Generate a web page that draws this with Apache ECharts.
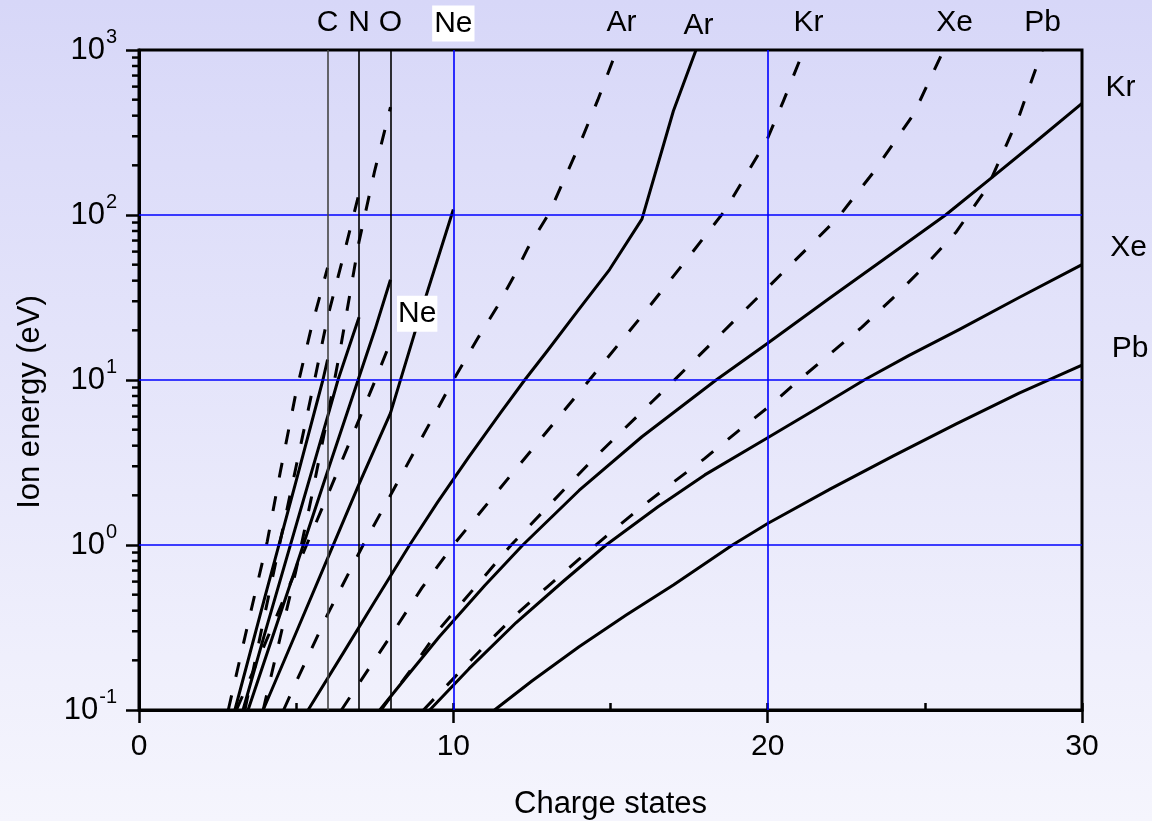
<!DOCTYPE html>
<html>
<head>
<meta charset="utf-8">
<script src="https://cdn.jsdelivr.net/npm/echarts/dist/echarts.min.js"></script>
<style>
html,body{margin:0;padding:0;}
#chart{width:1152px;height:821px;background:linear-gradient(to bottom,#d7d7f8 0%,#f5f5fd 100%);}
</style>
</head>
<body>
<div id="chart"></div>
<script>
// ---------- data ----------
const xTicks = [0, 10, 20, 30];
const yMin = 0.1, yMax = 1000;
const gridX = [10, 20];
const gridY = [1, 10, 100];
const elementLines = [6, 7, 8];
const minorYTicks = [0.2,0.3,0.4,0.5,0.6,0.7,0.8,0.9, 2,3,4,5,6,7,8,9, 20,30,40,50,60,70,80,90, 200,300,400,500,600,700,800,900];

const solidC  = [[3.05,0.1],[4,0.48],[5,2.45],[5.85,10],[6,13.3]];
const solidN  = [[3.31,0.1],[4,0.29],[5,1.32],[6,6.0],[6.33,10],[7,24]];
const solidO  = [[3.47,0.1],[4,0.2],[5,0.74],[6,2.8],[6.97,10],[7.5,20],[8,40.5]];
const solidNe = [[3.95,0.1],[5,0.295],[6,0.83],[7,2.34],[8,6.3],[9,26.9],[10,108]];
const solidAr = [[5.38,0.1],[6.5,0.222],[7.5,0.454],[8.61,1.0],[9.5,1.82],[10.5,3.43],[11.5,6.31],[12.27,10],[13,15.1],[14,26.9],[14.97,46.7],[16,94.4],[17,427],[17.72,1000]];
const solidKr = [[7.66,0.1],[8.5,0.158],[9.56,0.279],[11,0.569],[12.21,1.0],[14,2.14],[16,4.53],[18.36,10],[20,16.7],[22,31.6],[24,59.2],[25.66,100],[27.12,168],[28.5,275],[30,475]];
const solidXe = [[9.25,0.1],[10.5,0.178],[12,0.339],[13.5,0.603],[14.86,1.0],[16.5,1.70],[18,2.66],[20,4.47],[21.5,6.61],[23.07,10],[24.5,14.1],[26.09,20.2],[28,31.6],[30,50]];
const solidPb = [[11.31,0.1],[12.5,0.15],[14,0.242],[15.5,0.376],[17,0.573],[18.88,1.0],[20,1.35],[22,2.19],[24,3.47],[26,5.42],[28,8.32],[30,12.3]];

const dashC  = [[2.84,0.1],[3.5,0.355],[4.08,1.05],[4.5,2.8],[5,8.5],[5.5,21.4],[6,47.9]];
const dashN  = [[3.37,0.1],[4,0.38],[4.5,1.07],[5,3.0],[5.61,10.5],[6,24],[6.5,56],[7,135]];
const dashO  = [[3.95,0.1],[4.5,0.28],[5,0.71],[5.5,2.0],[6,6.0],[6.39,14.8],[7,69],[7.5,186],[8,450]];
const dashNe = [[3.1,0.1],[4,0.25],[5,0.71],[6,2.0],[7,5.75],[7.5,9.8],[8,17]];
const dashAr = [[4.6,0.1],[5,0.148],[6,0.38],[7.13,1.0],[8,2.0],[9,4.47],[10,10],[10.8,18.2],[11.38,27.5],[11.9,41.7],[12.37,63],[13.06,103.5],[14,263],[14.6,500],[15.2,1000]];
const dashKr = [[6.44,0.1],[7,0.145],[8,0.28],[9,0.55],[10,1.0],[12,2.9],[14.23,9.5],[16,24.5],[17.5,56],[18.65,107],[19.98,286],[20.5,490],[21.15,1000]];
const dashXe = [[7.7,0.1],[8.6,0.17],[9.56,0.31],[11.84,1.0],[14.44,3.3],[17.19,10.7],[20,36.3],[22.22,95.5],[23.35,180],[24.64,407],[25.6,1000]];
const dashPb = [[9.05,0.1],[10,0.155],[11,0.245],[12,0.38],[13,0.56],[14,0.82],[15,1.19],[16,1.71],[17,2.4],[18,3.35],[19,4.8],[20,6.8],[21,10],[22,14.5],[23,20.9],[24,31.6],[25,49],[26,79],[27,148],[28,398],[28.74,1000]];

const topLabels  = ['C','N','O','Ne','Ar','Ar','Kr','Xe','Pb'];
const topLabelX  = [6, 7, 8, 10, 15.35, 17.8, 21.3, 25.95, 28.75];
const rightLabels = ['Kr','Xe','Pb'];
const rightLabelY = [475, 50, 12.3];
const plotLabel = 'Ne';
const plotLabelAt = [8.85, 25.2];

const xName = 'Charge states';
const yName = 'Ion energy (eV)';

// ---------- styling ----------
const FONT = '"Liberation Sans", Arial, Helvetica, sans-serif';
const FS = 30;
const topOffsetY = [-27,-27,-27,-26.5,-27,-24.5,-27,-27,-27];
const rightOffsets = [[38.5,-16],[46.5,-16.5],[48,-16]];
const labelBase = {fontFamily:FONT, fontSize:FS, color:'#000', opacity:1,
                   textBorderWidth:0, textBorderColor:'transparent', textShadowBlur:0};

const chart = echarts.init(document.getElementById('chart'), null, {renderer:'canvas'});

function curve(data, dashed) {
  return {
    type:'line', data:data, showSymbol:false, symbol:'none',
    smooth:false, z:4, silent:true, animation:false,
    lineStyle:{color:'#000', width:3, type: dashed ? [15,19] : 'solid', cap:'butt', join:'round'}
  };
}

const series = [
  {type:'line', data:[], z:1, silent:true, animation:false,
   markLine:{symbol:['none','none'], silent:true, animation:false, label:{show:false},
     lineStyle:{color:'#0000ff', width:1.6, type:'solid'},
     data: gridX.map(v=>({xAxis:v})).concat(gridY.map(v=>({yAxis:v})))}},
  {type:'line', data:[], z:2, silent:true, animation:false,
   markLine:{symbol:['none','none'], silent:true, animation:false, label:{show:false},
     data: elementLines.map((v,i)=>({xAxis:v, lineStyle:{color: i===0?'#444':'#000', width:1.6, type:'solid'}}))}},
  curve(solidC,false), curve(solidN,false), curve(solidO,false), curve(solidNe,false),
  curve(solidAr,false), curve(solidKr,false), curve(solidXe,false), curve(solidPb,false),
  curve(dashC,true), curve(dashN,true), curve(dashO,true), curve(dashNe,true),
  curve(dashAr,true), curve(dashKr,true), curve(dashXe,true), curve(dashPb,true),
  {type:'custom', coordinateSystem:'cartesian2d', clip:false, silent:true, z:6, animation:false,
   data: minorYTicks.map(v=>[0,v]),
   renderItem:function(params, api){
     const p = api.coord([0, api.value(1)]);
     return {type:'line', shape:{x1:p[0]-7, y1:p[1], x2:p[0], y2:p[1]}, style:{stroke:'#000', lineWidth:2.5}};
   }},
  {type:'scatter', symbolSize:0, clip:false, silent:true, z:10, animation:false,
   itemStyle:{color:'#000', opacity:0},
   data: topLabelX.map((x,i)=>({value:[x,yMax], label:Object.assign({
      show:true, formatter:topLabels[i], position:[0, topOffsetY[i]], align:'center', verticalAlign:'middle',
      backgroundColor: topLabels[i]==='Ne' ? '#fff' : 'transparent',
      padding: topLabels[i]==='Ne' ? [3,2,3,2] : 0 }, labelBase)}))},
  {type:'scatter', symbolSize:0, clip:false, silent:true, z:10, animation:false,
   itemStyle:{color:'#000', opacity:0},
   data: rightLabelY.map((y,i)=>({value:[30,y], label:Object.assign({
      show:true, formatter:rightLabels[i], position:rightOffsets[i], align:'center', verticalAlign:'middle'}, labelBase)}))},
  {type:'scatter', symbolSize:0, clip:false, silent:true, z:10, animation:false,
   itemStyle:{color:'#000', opacity:0},
   data:[{value:plotLabelAt, label:Object.assign({show:true, formatter:plotLabel, position:[0,0], align:'center', verticalAlign:'middle',
      backgroundColor:'#fff', padding:[3,1,3,1]}, labelBase)}]}
];

const option = {
  animation:false,
  backgroundColor:'transparent',
  textStyle:{fontFamily:FONT},
  grid:{left:139, right:70, top:50, bottom:111, show:true, borderColor:'#000', borderWidth:3,
        backgroundColor:'transparent', containLabel:false, outerBoundsMode:'none'},
  xAxis:[{
    type:'value', min:xTicks[0], max:xTicks[xTicks.length-1], interval:10, position:'bottom',
    name:xName, nameLocation:'middle', nameGap:79,
    nameTextStyle:{fontFamily:FONT, fontSize:31, color:'#000'},
    axisLine:{show:true, onZero:false, lineStyle:{color:'#000', width:3}},
    axisTick:{show:true, inside:false, length:13, lineStyle:{color:'#000', width:2.5}},
    axisLabel:{show:true, margin:22, fontFamily:FONT, fontSize:FS, color:'#000'},
    splitLine:{show:false}
  },{
    type:'value', min:0, max:30, interval:5, position:'bottom',
    axisLine:{show:false},
    axisTick:{show:true, inside:true, length:7, lineStyle:{color:'#000', width:2.5}},
    axisLabel:{show:false}, splitLine:{show:false}
  }],
  yAxis:{
    type:'log', logBase:10, min:yMin, max:yMax, splitNumber:4,
    name:yName, nameLocation:'middle', nameGap:93,
    nameTextStyle:{fontFamily:FONT, fontSize:31, color:'#000', padding:[0,44,0,0]},
    axisLine:{show:true, onZero:false, lineStyle:{color:'#000', width:3}},
    axisTick:{show:true, inside:false, length:13, lineStyle:{color:'#000', width:2.5}},
    axisLabel:{show:true, margin:22,
      formatter:function(v){ const e = Math.round(Math.log10(v)); return '{b|10}{s|' + e + '}'; },
      rich:{
        b:{fontFamily:FONT, fontSize:31, color:'#000', lineHeight:31, verticalAlign:'bottom'},
        s:{fontFamily:FONT, fontSize:20, color:'#000', lineHeight:20, verticalAlign:'bottom', padding:[0,0,18,1]}
      }},
    splitLine:{show:false}
  },
  series:series
};
chart.setOption(option);
</script>
</body>
</html>
